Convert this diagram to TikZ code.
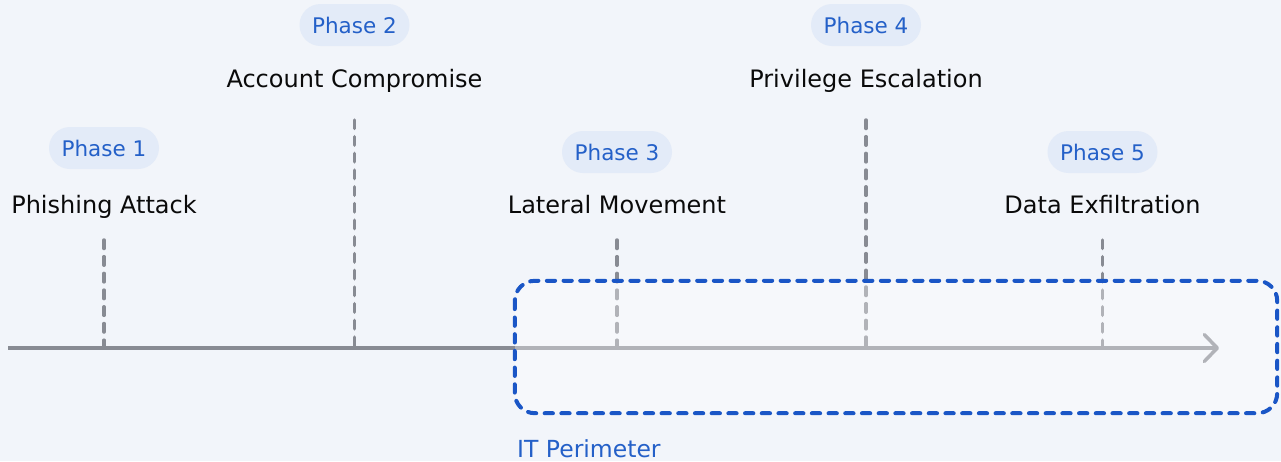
\documentclass[tikz,border=0pt]{standalone}
\usepackage{fontspec}
\setmainfont{DejaVu Sans}
\usetikzlibrary{arrows.meta}

\definecolor{bgc}{HTML}{F2F5FA}
\definecolor{badgefill}{HTML}{E3EBF8}
\definecolor{phaseblue}{HTML}{2460C8}
\definecolor{perimblue}{HTML}{1A56C6}
\definecolor{tickgray}{HTML}{888B93}
\definecolor{titleink}{HTML}{0A0A0A}

\tikzset{
  badge/.style={fill=badgefill, rounded corners=21pt, minimum width=110pt,
    minimum height=42pt, inner sep=0pt, text=phaseblue,
    font=\fontsize{21.5}{25}\selectfont},
  stagetitle/.style={inner sep=0pt, text=titleink, anchor=base,
    font=\fontsize{24}{28}\selectfont},
  tickline/.style={draw=tickgray, line width=3.5pt, line cap=round,
    dash pattern=on 8.5pt off 8.2pt},
  axisline/.style={draw=tickgray, line width=3.5pt},
  perimeter/.style={draw=perimblue, line width=4pt, line cap=round,
    dash pattern=on 8.3pt off 8.4pt, rounded corners=20pt},
  perimlabel/.style={inner sep=0pt, text=phaseblue, anchor=base west,
    font=\fontsize{23.5}{27}\selectfont},
}

\begin{document}
\begin{tikzpicture}[x=1pt,y=-1pt]
  \fill[bgc] (0,0) rectangle (1281,461);
  \useasboundingbox (0,0) rectangle (1281,461);

  % timeline axis
  \coordinate (axstart) at (8,348);
  \coordinate (axend) at (1219,348);
  \draw[axisline, -{Straight Barb[length=13pt,width=27pt,round]}] (axstart) -- (axend);

  % phase markers: badge, stage name and dashed tick down to the axis
  \foreach \name/\x/\by/\ty/\tick/\num/\txt in {
      p1/104/148/213/240/1/Phishing Attack,
      p2/354.5/25/87/120/2/Account Compromise,
      p3/617/152/213/240/3/Lateral Movement,
      p4/866/25/87/120/4/Privilege Escalation,
      p5/1102.5/152/213/240/5/Data Exfiltration} {
    \node[badge] (\name badge) at (\x,\by) {Phase \num};
    \node[stagetitle] (\name title) at (\x,\ty) {\txt};
    \coordinate (\name top) at (\x,\tick);
    \coordinate (\name foot) at (\x,348);
    \draw[tickline] (\name top) -- (\name foot);
  }

  % IT perimeter: light veil over the inner part of the timeline
  \node[inner sep=0pt, minimum width=762pt, minimum height=132pt,
        fill=white, fill opacity=0.35, rounded corners=20pt] (perim) at (896,347) {};
  \draw[perimeter] (perim.north west) rectangle (perim.south east);
  \node[perimlabel] (perimtext) at (517,457) {IT Perimeter};
\end{tikzpicture}
\end{document}
